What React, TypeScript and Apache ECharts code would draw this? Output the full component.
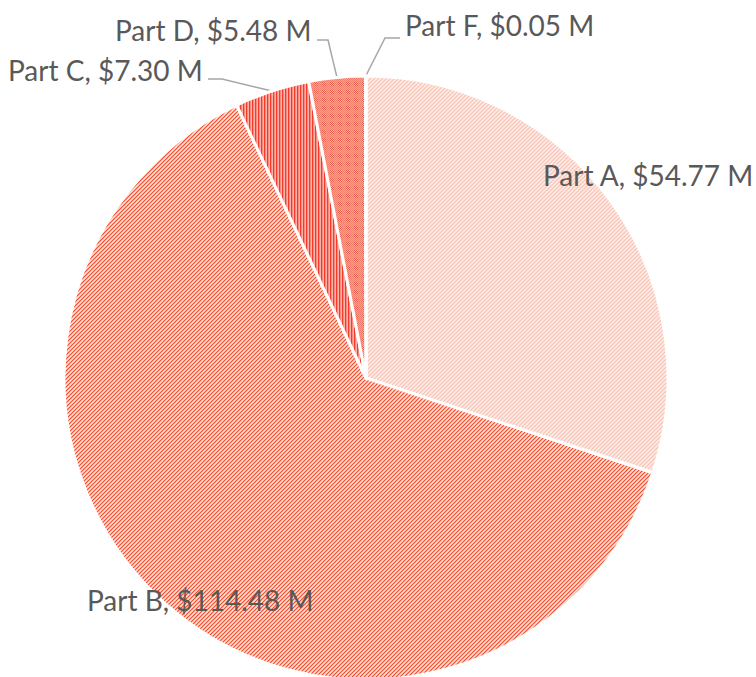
import React, { useEffect, useRef } from "react";
import * as echarts from "echarts";

const categories = ["Part A", "Part B", "Part C", "Part D", "Part F"];
const values = [54.77, 114.48, 7.3, 5.48, 0.05];

// layout: label anchor (left x, middle y) and leader elbow / end for each slice label
const labelAnchors: [number, number][] = [
  [543, 175],
  [87, 600],
  [8, 70],
  [115, 30],
  [405, 25],
];
const leaderBends: ([number, number][] | null)[] = [
  null,
  null,
  [[222, 79], [208, 79]],
  [[328, 40], [317, 40]],
  [[385, 38], [400, 38]],
];

const CENTER: [number, number] = [366, 378];
const RADIUS = 302;

function hexToRgb(h: string) {
  const n = parseInt(h.slice(1), 16);
  return [(n >> 16) & 255, (n >> 8) & 255, n & 255];
}

function makePattern(w: number, h: number, fn: (x: number, y: number) => string) {
  const c = document.createElement("canvas");
  c.width = w;
  c.height = h;
  const ctx = c.getContext("2d")!;
  const img = ctx.createImageData(w, h);
  for (let y = 0; y < h; y++) {
    for (let x = 0; x < w; x++) {
      const [r, g, b] = hexToRgb(fn(x, y));
      const i = (y * w + x) * 4;
      img.data[i] = r;
      img.data[i + 1] = g;
      img.data[i + 2] = b;
      img.data[i + 3] = 255;
    }
  }
  ctx.putImageData(img, 0, 0);
  return { image: c, repeat: "repeat" as const };
}

export default function App() {
  const ref = useRef<HTMLDivElement>(null);
  useEffect(() => {
    if (!ref.current) return;
    const chart = echarts.init(ref.current, null, { renderer: "svg" });

    const pA = ["#f8c6b8", "#fbd8ce", "#fdeee9", "#fbe0d8"];
    const pB = ["#f24f2e", "#f8a896", "#fde0d7", "#f9bcac"];
    const pC = ["#f33c2c", "#f88a7f", "#fbb3aa"];
    const patA = makePattern(4, 4, (x, y) => pA[(x + y) % 4]);
    const patB = makePattern(4, 4, (x, y) => pB[(x + y) % 4]);
    const patC = makePattern(3, 3, (x) => pC[x % 3]);
    const patD = makePattern(8, 8, (x, y) => {
      const inner = x >= 2 && x <= 5 && y >= 2 && y <= 5;
      if (inner) return (x + y) % 2 === 0 ? "#ec5a44" : "#fbb6ab";
      return (x + y) % 2 === 0 ? "#f07d6c" : "#f6a195";
    });
    const fills: any[] = [patA, patB, patC, patD, "#e8603f"];

    const total = values.reduce((s, v) => s + v, 0);
    const midAngles: number[] = [];
    let acc = 0;
    values.forEach((v) => {
      midAngles.push(((acc + v / 2) / total) * Math.PI * 2);
      acc += v;
    });

    const data = categories.map((name, i) => ({
      name,
      value: values[i],
      itemStyle: { color: fills[i] },
      labelLine: { show: leaderBends[i] != null },
    }));

    chart.setOption({
      animation: false,
      series: [
        {
          type: "pie",
          center: CENTER,
          radius: RADIUS,
          startAngle: 90,
          clockwise: true,
          avoidLabelOverlap: false,
          itemStyle: { borderColor: "#ffffff", borderWidth: 3 },
          label: {
            show: true,
            position: "outside",
            formatter: (p: any) => `${p.name}, $${p.value.toFixed(2)} M`,
            fontFamily: "Lato",
            fontSize: 28,
            color: "#595959",
          },
          labelLine: {
            lineStyle: { color: "#a6a6a6", width: 1.5 },
          },
          labelLayout: (p: any) => {
            const i = p.dataIndex;
            const a = labelAnchors[i];
            const res: any = {
              x: a[0],
              y: a[1],
              align: "left",
              verticalAlign: "middle",
            };
            const bends = leaderBends[i];
            if (bends) {
              const ang = midAngles[i];
              const start = [
                CENTER[0] + RADIUS * Math.sin(ang),
                CENTER[1] - RADIUS * Math.cos(ang),
              ];
              res.labelLinePoints = [start, bends[0], bends[1]];
            }
            return res;
          },
          data,
        },
      ],
    });
    return () => chart.dispose();
  }, []);
  return (
    <div
      ref={ref}
      style={{ position: "absolute", left: 0, top: 0, width: 756, height: 677 }}
    />
  );
}
